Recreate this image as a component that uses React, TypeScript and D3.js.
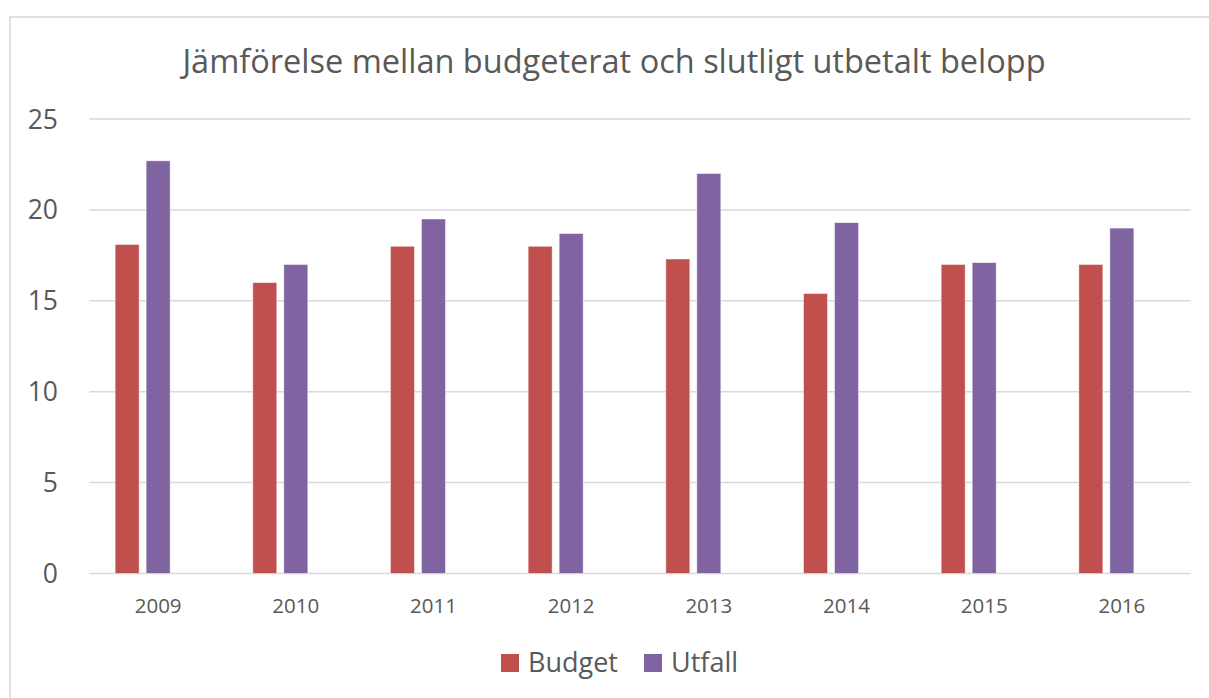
import React from "react";
import * as d3 from "d3";

const years = ["2009", "2010", "2011", "2012", "2013", "2014", "2015", "2016"];
const budget = [18.1, 16.0, 18.0, 18.0, 17.3, 15.4, 17.0, 17.0];
const utfall = [22.7, 17.0, 19.5, 18.7, 22.0, 19.3, 17.1, 19.0];
const seriesNames = ["Budget", "Utfall", ""];
const seriesColors = ["#C0504D", "#8064A2", "none"];
const yTicks = [0, 5, 10, 15, 20, 25];
const title = "Jämförelse mellan budgeterat och slutligt utbetalt belopp";

export default function App() {
  const W = 1209, H = 698;
  const left = 89.3, right = 1190.7, top = 119, bottom = 573.5;
  const x = d3.scaleBand<string>().domain(years).range([left, right]).paddingInner(0.375).paddingOuter(0.1875);
  const xs = d3.scaleBand<string>().domain(seriesNames.map((_, i) => String(i))).range([0, x.bandwidth()]).paddingInner(7 / 31);
  const y = d3.scaleLinear().domain([0, 25]).range([bottom, top]);
  const data = [budget, utfall];
  const font = "'Open Sans', sans-serif";
  return (
    <svg width={W} height={H} style={{ position: "absolute", left: 0, top: 0 }} fontFamily={font}>
      <rect x={0} y={0} width={W} height={H} fill="#fff" />
      <rect x={10} y={17} width={W + 20} height={H + 20} fill="#fff" stroke="#d9d9d9" strokeWidth={1.5} />
      <text x={614} y={73} textAnchor="middle" fontSize={32.5} fill="#595959">{title}</text>
      {yTicks.map((t) => (
        <g key={t}>
          <line x1={left} x2={right} y1={y(t)} y2={y(t)} stroke="#d9d9d9" strokeWidth={1.5} />
          <text x={58} y={y(t) + 9.5} textAnchor="end" fontSize={26.5} fill="#595959">{t}</text>
        </g>
      ))}
      {data.map((vals, si) =>
        vals.map((v, i) => (
          <rect key={si + "-" + i}
            x={(x(years[i]) as number) + (xs(String(si)) as number)}
            y={y(v)}
            width={xs.bandwidth()}
            height={y(0) - y(v)}
            fill={seriesColors[si]}
            stroke="#fff" strokeOpacity={0.6} strokeWidth={0.8} />
        ))
      )}
      {years.map((yr) => (
        <text key={yr} x={(x(yr) as number) + x.bandwidth() / 2} y={613} textAnchor="middle" fontSize={20.5} fill="#595959">{yr}</text>
      ))}
      {[0, 1].map((si) => {
        const lx = si === 0 ? 501 : 644;
        return (
          <g key={si}>
            <rect x={lx} y={654} width={18} height={18} fill={seriesColors[si]} />
            <text x={lx + 27} y={672} fontSize={27} fill="#595959">{seriesNames[si]}</text>
          </g>
        );
      })}
    </svg>
  );
}
